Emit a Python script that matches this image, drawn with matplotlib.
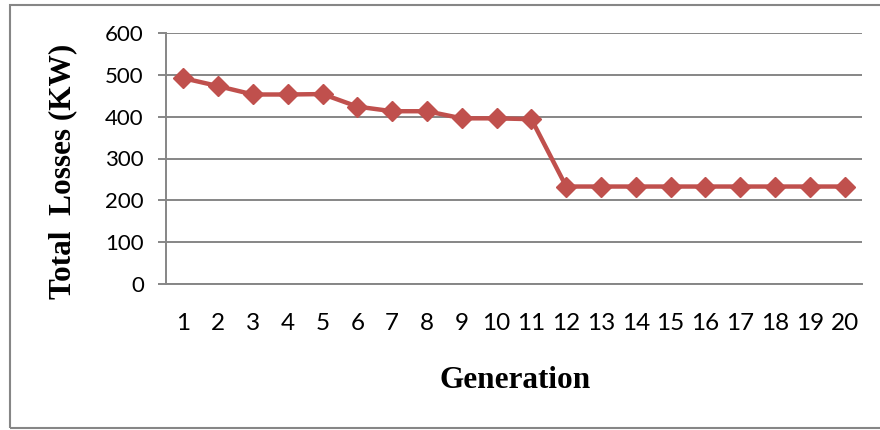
import matplotlib
matplotlib.use('Agg')
import matplotlib.pyplot as plt
from matplotlib.patches import Rectangle

# perdidas totales por generacion
generacion = list(range(1, 21))
perdidas = [492, 473, 453, 453, 454, 424, 413, 413, 396, 396, 394,
            233, 233, 233, 233, 233, 233, 233, 233, 233]
yticks = [0, 100, 200, 300, 400, 500, 600]

rojo = '#C0504D'
gris = '#868686'

W, H = 880, 430
fig = plt.figure(figsize=(W / 100, H / 100), dpi=100)
ax = fig.add_axes([166 / W, 1 - 284 / H, (862 - 166) / W, (284 - 33) / H])

ax.plot(generacion, perdidas, color=rojo, lw=3.2, marker='D', ms=10,
        markeredgecolor=rojo, solid_joinstyle='round', clip_on=False, zorder=3)

ax.set_xlim(0.5, 20.5)
ax.set_ylim(0, 600)
ax.set_yticks(yticks)
ax.set_xticks(generacion)
ax.grid(axis='y', color=gris, lw=1.4)
ax.set_axisbelow(True)
for s in ['top', 'right']:
    ax.spines[s].set_visible(False)
for s in ['left', 'bottom']:
    ax.spines[s].set_color(gris)
    ax.spines[s].set_linewidth(1.4)

ax.tick_params(axis='y', length=6, width=1.4, color=gris, pad=10, labelsize=16)
ax.tick_params(axis='x', length=0, pad=21, labelsize=17.5)
for lab in ax.get_xticklabels() + ax.get_yticklabels():
    lab.set_fontfamily('Lato')

fig.text(515 / W, 1 - 380 / H, 'Generation', ha='center', va='center',
         fontfamily='Liberation Serif', fontweight='bold', fontsize=22.5)
fig.text(63 / W, 1 - 171 / H, 'Total  Losses (KW)', ha='center', va='center',
         rotation=90, fontfamily='Liberation Serif', fontweight='bold', fontsize=22.5)

# marco exterior
fig.patches.append(Rectangle((10 / W, 1 - 428 / H), 1.0, (428 - 5) / H,
                             transform=fig.transFigure, fill=False,
                             edgecolor=gris, lw=1.5))

fig.savefig('out.png', dpi=100)
